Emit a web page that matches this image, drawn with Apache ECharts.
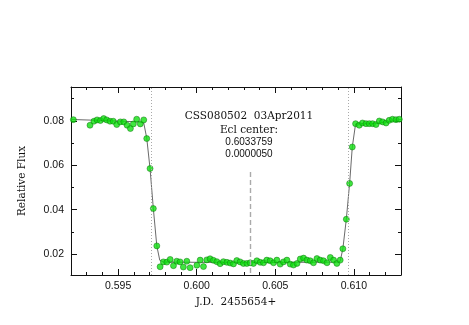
<!DOCTYPE html>
<html>
<head>
<meta charset="utf-8">
<script src="https://cdn.jsdelivr.net/npm/echarts@6/dist/echarts.min.js"></script>
<style>
  html, body { margin: 0; padding: 0; background: #fff; }
  #chart { width: 469px; height: 325px; }
</style>
</head>
<body>
<div id="chart"></div>
<script>
// observed points, J.D. - 2455654
const jd = [
  0.59215, 0.59321, 0.59346, 0.59366, 0.59387, 0.59408, 0.59427, 0.59448, 0.59469, 0.59491,
  0.59514, 0.59536, 0.59557, 0.59578, 0.59597, 0.59618, 0.59641, 0.59663, 0.59682, 0.59703,
  0.59724, 0.59746, 0.59767, 0.59788, 0.59810, 0.59831, 0.59852, 0.59873, 0.59894, 0.59915,
  0.59937, 0.59958, 0.60001, 0.60022, 0.60043, 0.60064, 0.60085, 0.60106, 0.60128, 0.60149,
  0.60170, 0.60192, 0.60213, 0.60234, 0.60255, 0.60276, 0.60297, 0.60319, 0.60340, 0.60361,
  0.60383, 0.60404, 0.60425, 0.60446, 0.60467, 0.60489, 0.60510, 0.60531, 0.60552, 0.60574,
  0.60595, 0.60616, 0.60638, 0.60659, 0.60680, 0.60701, 0.60722, 0.60743, 0.60765, 0.60786,
  0.60807, 0.60829, 0.60850, 0.60871, 0.60892, 0.60913, 0.60930, 0.60952, 0.60973, 0.60990,
  0.61011, 0.61034, 0.61055, 0.61077, 0.61098, 0.61119, 0.61141, 0.61162, 0.61183, 0.61205,
  0.61225, 0.61246, 0.61268, 0.61289
]
const flux = [
  0.0805, 0.0780, 0.0798, 0.0804, 0.0801, 0.0810, 0.0804, 0.0798, 0.0798, 0.0783,
  0.0795, 0.0795, 0.0780, 0.0765, 0.0786, 0.0807, 0.0786, 0.0804, 0.0720, 0.0585,
  0.0405, 0.0237, 0.0143, 0.0165, 0.0164, 0.0176, 0.0148, 0.0168, 0.0165, 0.0142,
  0.0168, 0.0139, 0.0150, 0.0173, 0.0144, 0.0174, 0.0179, 0.0172, 0.0166, 0.0157,
  0.0166, 0.0163, 0.0160, 0.0156, 0.0171, 0.0165, 0.0158, 0.0158, 0.0161, 0.0158,
  0.0170, 0.0163, 0.0161, 0.0173, 0.0170, 0.0161, 0.0173, 0.0155, 0.0165, 0.0173,
  0.0155, 0.0151, 0.0158, 0.0178, 0.0182, 0.0173, 0.0170, 0.0161, 0.0180, 0.0173,
  0.0170, 0.0161, 0.0185, 0.0173, 0.0158, 0.0173, 0.0224, 0.0357, 0.0518, 0.0682,
  0.0787, 0.0780, 0.0790, 0.0787, 0.0787, 0.0787, 0.0783, 0.0799, 0.0795, 0.0790,
  0.0802, 0.0807, 0.0805, 0.0807
]

// model light curve
const fitJd = [
  0.5920, 0.5945, 0.5963, 0.59663, 0.59682, 0.59703, 0.59724, 0.59746, 0.59765, 0.59790,
  0.6030, 0.6090, 0.60913, 0.60930, 0.60952, 0.60973, 0.60990, 0.61011, 0.6115, 0.6130
]
const fitFlux = [
  0.0806, 0.0800, 0.0795, 0.0790, 0.0722, 0.0585, 0.0405, 0.0237, 0.0172, 0.0164,
  0.0162, 0.0164, 0.0168, 0.0224, 0.0357, 0.0518, 0.0682, 0.0786, 0.0788, 0.0806
]

const eclCenter = 0.6033759
const eclError = 0.0000050
const contacts = [0.59709, 0.60967]
const centerMarkTop = 0.057

const xRange = [0.592, 0.613]
const yRange = [0.0106, 0.0952]
const xMajor = [0.595, 0.600, 0.605, 0.610]
const xMinor = [0.593, 0.594, 0.596, 0.597, 0.598, 0.599, 0.601, 0.602, 0.603, 0.604,
  0.606, 0.607, 0.608, 0.609, 0.611, 0.612]
const yMajor = [0.02, 0.04, 0.06, 0.08]
const yMinor = [0.03, 0.05, 0.07, 0.09]

const ink = '#111'
const sansFont = '"Liberation Sans", Arial, sans-serif'
const serifFont = '"DejaVu Serif", serif'

function frameAxis(dir, pos, ticks, len, withLabels, range) {
  let ax = {
    type: 'value',
    position: pos,
    min: range[0],
    max: range[1],
    splitLine: { show: false },
    axisLine: { show: len > 4, onZero: false, lineStyle: { color: ink, width: 1 } },
    axisTick: { show: true, inside: true, length: len, customValues: ticks,
      lineStyle: { color: ink, width: 1 } },
    axisLabel: { show: false }
  }
  if (withLabels) {
    ax.axisLabel = {
      show: true,
      customValues: ticks,
      color: ink,
      fontFamily: sansFont,
      fontSize: 10.5,
      margin: dir === 'x' ? 6 : 7,
      formatter: v => v.toFixed(dir === 'x' ? 3 : 2)
    }
  }
  return ax
}

let xAxes = [
  frameAxis('x', 'bottom', xMajor, 6, true, xRange),
  frameAxis('x', 'bottom', xMinor, 3, false, xRange),
  frameAxis('x', 'top', xMajor, 6, false, xRange),
  frameAxis('x', 'top', xMinor, 3, false, xRange)
]
xAxes[0].name = 'J.D.  2455654+'
xAxes[0].nameLocation = 'middle'
xAxes[0].nameGap = 21
xAxes[0].nameTextStyle = { fontFamily: serifFont, fontSize: 10.5, color: ink }

let yAxes = [
  frameAxis('y', 'left', yMajor, 6, true, yRange),
  frameAxis('y', 'left', yMinor, 3, false, yRange),
  frameAxis('y', 'right', yMajor, 6, false, yRange),
  frameAxis('y', 'right', yMinor, 3, false, yRange)
]
yAxes[0].name = 'Relative Flux'
yAxes[0].nameLocation = 'middle'
yAxes[0].nameGap = 43
yAxes[0].nameTextStyle = { fontFamily: serifFont, fontSize: 10.5, color: ink }

const points = jd.map((x, i) => [x, flux[i]])
const fitLine = fitJd.map((x, i) => [x, fitFlux[i]])

const dotted = { color: '#aaa', type: [1, 2], width: 1 }
const dashed = { color: '#aaa', type: [5, 3], width: 1.4 }

const chart = echarts.init(document.getElementById('chart'), null, { renderer: 'canvas' })
chart.setOption({
  animation: false,
  backgroundColor: '#fff',
  grid: { left: 71, right: 68, top: 87, bottom: 50 },
  xAxis: xAxes,
  yAxis: yAxes,
  graphic: [
    { type: 'text', x: 249, y: 116, style: { text: 'CSS080502  03Apr2011', fill: ink,
      font: '10.5px ' + serifFont, align: 'center', verticalAlign: 'middle' } },
    { type: 'text', x: 249, y: 130, style: { text: 'Ecl center:', fill: ink,
      font: '10.5px ' + serifFont, align: 'center', verticalAlign: 'middle' } },
    { type: 'text', x: 249, y: 142.5, style: { text: eclCenter.toFixed(7), fill: ink,
      font: '10px ' + sansFont, align: 'center', verticalAlign: 'middle' } },
    { type: 'text', x: 249, y: 154.5, style: { text: eclError.toFixed(7), fill: ink,
      font: '10px ' + sansFont, align: 'center', verticalAlign: 'middle' } }
  ],
  series: [
    {
      type: 'line',
      data: fitLine,
      showSymbol: false,
      lineStyle: { color: '#444', width: 0.8 },
      z: 2,
      markLine: {
        silent: true,
        symbol: 'none',
        label: { show: false },
        data: [
          [
            { coord: [contacts[0], yRange[0]], lineStyle: dotted },
            { coord: [contacts[0], yRange[1]] }
          ],
          [
            { coord: [contacts[1], yRange[0]], lineStyle: dotted },
            { coord: [contacts[1], yRange[1]] }
          ],
          [
            { coord: [eclCenter, centerMarkTop], lineStyle: dashed },
            { coord: [eclCenter, yRange[0]] }
          ]
        ]
      }
    },
    {
      type: 'scatter',
      data: points,
      symbol: 'circle',
      symbolSize: 6,
      itemStyle: { color: '#10e010', borderColor: '#0b700b', borderWidth: 0.6 },
      z: 3
    }
  ]
})
</script>
</body>
</html>
